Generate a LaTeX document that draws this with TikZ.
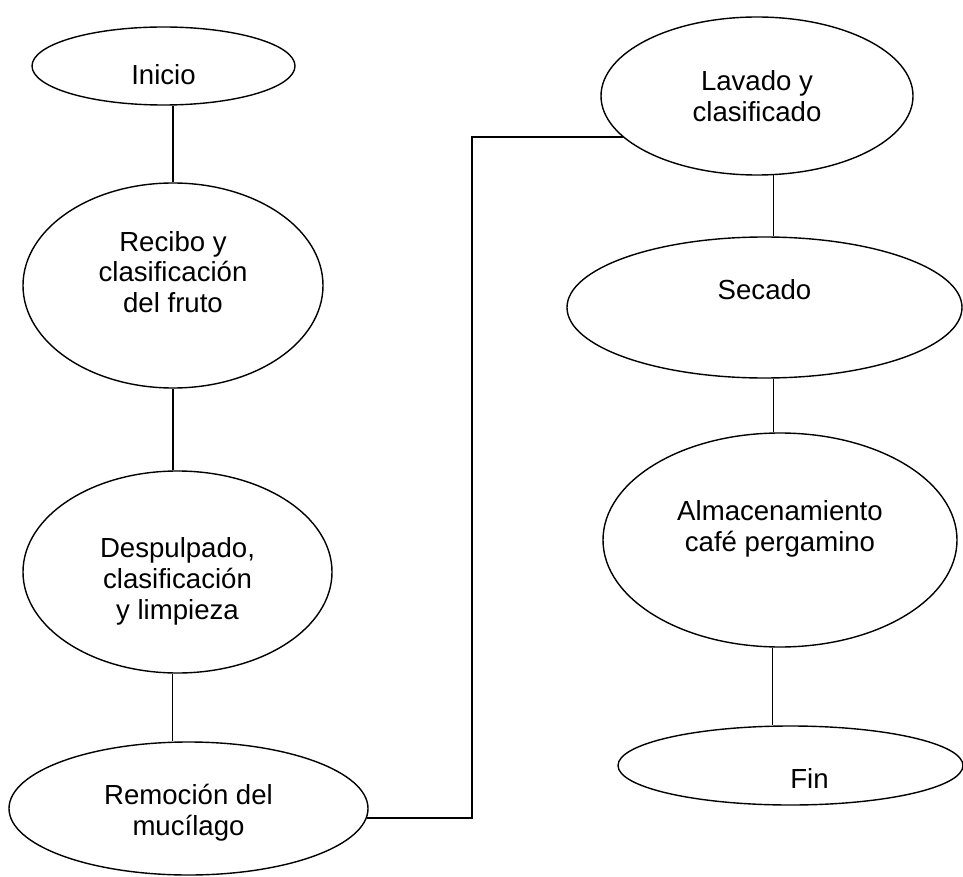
\documentclass[tikz,border=0pt]{standalone}
\usepackage{fontspec}
\setmainfont{Liberation Sans}
\usepackage{tikz}
\usetikzlibrary{shapes.geometric}
\usetikzlibrary{calc}

\tikzset{
  etapa/.style={draw, ellipse, line width=0.7pt, inner sep=0pt},
  every label/.style={align=center},
}

\begin{document}
\begin{tikzpicture}[x=0.5pt,y=-0.5pt,font=\fontsize{13.8}{15.4}\selectfont,line width=0.65pt]
\useasboundingbox (0,0) rectangle (963,877);
%% columna izquierda
\node[etapa,minimum width=131.5pt,minimum height=39pt,
  label={[yshift=-4.5pt]center:Inicio}] (ini) at (163.5,66) {};
\node[etapa,minimum width=150pt,minimum height=102.5pt,
  label={[yshift=6.75pt]center:Recibo y\\clasificación\\del fruto}] (rec) at (173,285.5) {};
\node[etapa,minimum width=154.5pt,minimum height=101pt,
  label={[yshift=-4.75pt]center:Despulpado,\\clasificación\\y limpieza}] (des) at (177.5,572) {};
\node[etapa,minimum width=179.5pt,minimum height=66.5pt,
  label={[yshift=-2pt]center:Remoción del\\mucílago}] (rem) at (188.5,808.5) {};
%% columna derecha
\node[etapa,minimum width=156pt,minimum height=79pt,
  label={center:Lavado y\\clasificado}] (lav) at (757,96) {};
\node[etapa,minimum width=197.5pt,minimum height=70.5pt,
  label={[yshift=8.75pt]center:Secado}] (sec) at (764.5,307.5) {};
\node[etapa,minimum width=177pt,minimum height=107pt,
  label={[yshift=5.5pt]center:Almacenamiento\\café pergamino}] (alm) at (780,540) {};
\node[etapa,minimum width=172.5pt,minimum height=39.5pt,
  label={[xshift=9.5pt,yshift=-6.25pt]center:Fin}] (fin) at (790.5,765.5) {};
\coordinate (codo) at (472,137);
%% conectores
\draw (rec.north) -- (rec.north |- ini.south);
\draw (rec.south) -- (rec.south |- des.north);
\draw (des.-93) -- (des.-93 |- rem.north);
\draw (rem.-3) -| (codo |- lav.197) -- (lav.197);
\draw (lav.-78) -- (lav.-78 |- sec.north);
\draw (sec.-83) -- (sec.-83 |- alm.north);
\draw (alm.-94) -- (alm.-94 |- fin.north);
\end{tikzpicture}
\end{document}
